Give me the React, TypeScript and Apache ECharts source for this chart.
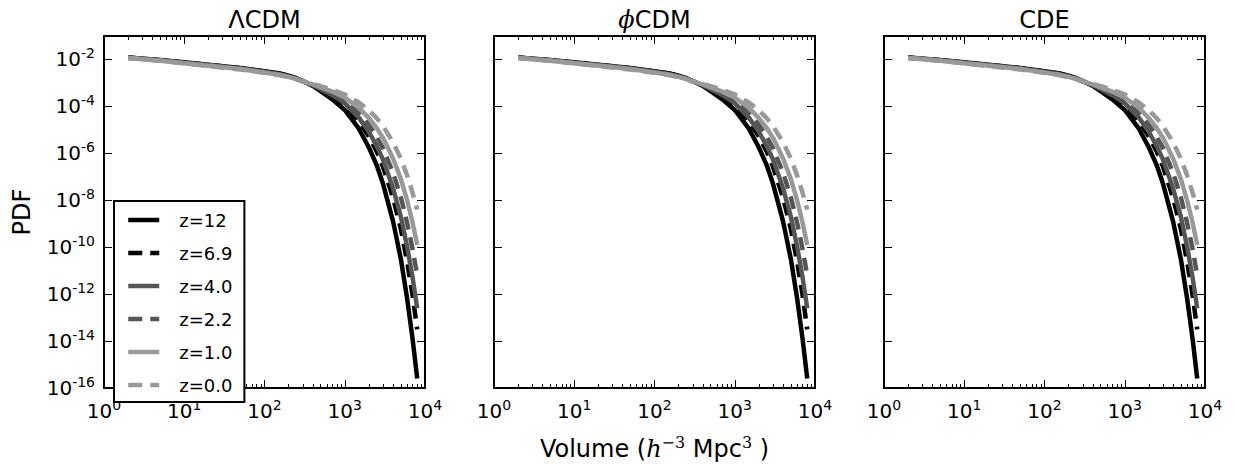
import React, { useEffect, useRef } from 'react';
import * as echarts from 'echarts';

// Volume sample points (h^-3 Mpc^3)
const volume = [2, 5, 10, 20, 50, 100, 150, 200, 250, 300, 400, 500, 700, 1000, 1500, 2000, 2500, 3000, 4000, 5000, 6000, 7000, 8000];

// log10(PDF), one array per redshift
const logPdfZ12 = [-1.92, -2.02, -2.12, -2.22, -2.36, -2.5, -2.59, -2.69, -2.8, -2.92, -3.13, -3.35, -3.7, -4.15, -4.95, -5.75, -6.5, -7.3, -8.9, -10.5, -12.2, -13.9, -15.6];
const logPdfZ69 = [-1.92, -2.03, -2.13, -2.23, -2.37, -2.51, -2.6, -2.7, -2.81, -2.92, -3.11, -3.3, -3.58, -3.95, -4.62, -5.28, -5.92, -6.57, -7.9, -9.22, -10.63, -12.05, -13.5];
const logPdfZ40 = [-1.93, -2.03, -2.14, -2.24, -2.38, -2.52, -2.62, -2.72, -2.82, -2.93, -3.1, -3.27, -3.52, -3.86, -4.48, -5.09, -5.68, -6.27, -7.49, -8.7, -9.99, -11.29, -12.6];
const logPdfZ22 = [-1.93, -2.04, -2.15, -2.25, -2.39, -2.54, -2.64, -2.73, -2.83, -2.93, -3.08, -3.23, -3.44, -3.73, -4.27, -4.79, -5.29, -5.79, -6.83, -7.87, -8.98, -10.08, -11.2];
const logPdfZ10 = [-1.94, -2.05, -2.16, -2.27, -2.41, -2.56, -2.65, -2.74, -2.84, -2.93, -3.06, -3.19, -3.37, -3.62, -4.06, -4.5, -4.92, -5.34, -6.22, -7.09, -8.02, -8.95, -9.9];
const logPdfZ00 = [-1.94, -2.05, -2.17, -2.28, -2.43, -2.57, -2.66, -2.75, -2.84, -2.93, -3.04, -3.14, -3.29, -3.49, -3.83, -4.17, -4.5, -4.84, -5.53, -6.22, -6.95, -7.68, -8.4];

const seriesNames = ['z=12', 'z=6.9', 'z=4.0', 'z=2.2', 'z=1.0', 'z=0.0'];
const seriesLogs = [logPdfZ12, logPdfZ69, logPdfZ40, logPdfZ22, logPdfZ10, logPdfZ00];
const seriesColors = ['#000000', '#000000', '#555555', '#555555', '#999999', '#999999'];
const seriesDashed = [false, true, false, true, false, true];

const panelTitles = ['{t|ΛCDM}', '{i|ϕ}{t|CDM}', '{t|CDE}'];

const xMajorTicks = [1, 10, 100, 1000, 10000];
const xMinorTicks = [2, 3, 4, 5, 6, 7, 8, 9, 20, 30, 40, 50, 60, 70, 80, 90, 200, 300, 400, 500, 600, 700, 800, 900, 2000, 3000, 4000, 5000, 6000, 7000, 8000, 9000];
const yMajorTicks = [1e-16, 1e-14, 1e-12, 1e-10, 1e-8, 1e-6, 1e-4, 1e-2];

const FONT = 'DejaVu Sans';
const gridLefts = [104, 494, 884];
const gridTop = 36;
const gridW = 321;
const gridH = 352;
const LINE_W = 4.5;
const DASH = [13, 8];

const powLabel = (v: number) => {
  const e = Math.round(Math.log10(v));
  return `{b|10}{s|${e}}`;
};
const powRich = {
  b: { fontSize: 20, fontFamily: FONT, color: '#000' },
  s: { fontSize: 14, fontFamily: FONT, color: '#000', padding: [0, 0, 12, 0] },
};

export default function App() {
  const ref = useRef<HTMLDivElement>(null);
  useEffect(() => {
    if (!ref.current) return;
    const chart = echarts.init(ref.current, undefined, { renderer: 'svg' });
    const grids: any[] = [];
    const xAxes: any[] = [];
    const yAxes: any[] = [];
    const series: any[] = [];
    const lineStyleAxis = { show: true, lineStyle: { color: '#000', width: 2 } };
    gridLefts.forEach((left, g) => {
      grids.push({ left, top: gridTop, width: gridW, height: gridH, outerBoundsMode: 'none', containLabel: false });
      const baseX = { type: 'log', logBase: 10, min: 1, max: 10000, gridIndex: g, splitLine: { show: false } };
      xAxes.push({
        ...baseX, position: 'bottom', axisLine: lineStyleAxis,
        axisTick: { show: true, inside: true, length: 8, customValues: xMajorTicks, lineStyle: { color: '#000', width: 1 } },
        axisLabel: { show: true, customValues: xMajorTicks, formatter: powLabel, rich: powRich, margin: 10, interval: 0 },
      });
      xAxes.push({
        ...baseX, position: 'bottom', axisLine: { show: false },
        axisTick: { show: true, inside: true, length: 4, customValues: xMinorTicks, lineStyle: { color: '#000', width: 1 } },
        axisLabel: { show: false },
      });
      xAxes.push({
        ...baseX, position: 'top', axisLine: lineStyleAxis,
        axisTick: { show: true, inside: true, length: 8, customValues: xMajorTicks, lineStyle: { color: '#000', width: 1 } },
        axisLabel: { show: false },
      });
      xAxes.push({
        ...baseX, position: 'top', axisLine: { show: false },
        axisTick: { show: true, inside: true, length: 4, customValues: xMinorTicks, lineStyle: { color: '#000', width: 1 } },
        axisLabel: { show: false },
      });
      const baseY = { type: 'log', logBase: 10, min: 1e-16, max: 1e-1, gridIndex: g, splitLine: { show: false } };
      yAxes.push({
        ...baseY, position: 'left', axisLine: lineStyleAxis,
        axisTick: { show: true, inside: true, length: 8, customValues: yMajorTicks, lineStyle: { color: '#000', width: 1 } },
        axisLabel: g === 0
          ? { show: true, customValues: yMajorTicks, formatter: powLabel, rich: powRich, margin: 9, interval: 0 }
          : { show: false },
      });
      yAxes.push({
        ...baseY, position: 'right', axisLine: lineStyleAxis,
        axisTick: { show: true, inside: true, length: 8, customValues: yMajorTicks, lineStyle: { color: '#000', width: 1 } },
        axisLabel: { show: false },
      });
      seriesNames.forEach((name, k) => {
        series.push({
          type: 'line',
          name,
          xAxisIndex: g * 4,
          yAxisIndex: g * 2,
          data: volume.map((v, i) => [v, Math.pow(10, seriesLogs[k][i])]),
          showSymbol: false,
          symbol: 'none',
          lineStyle: { color: seriesColors[k], width: LINE_W, type: seriesDashed[k] ? DASH : 'solid', cap: 'butt', join: 'round' },
          itemStyle: { color: seriesColors[k] },
          z: 2 + k,
        });
      });
    });

    const graphics: any[] = [];
    panelTitles.forEach((t, g) => {
      graphics.push({
        type: 'text', x: gridLefts[g] + gridW / 2, y: 20,
        style: {
          text: t, align: 'center', verticalAlign: 'middle', fill: '#000',
          rich: {
            t: { fontSize: 24, fontFamily: FONT, color: '#000' },
            i: { fontSize: 24, fontFamily: 'DejaVu Serif', fontStyle: 'italic', color: '#000' },
          },
        },
      });
    });
    graphics.push({
      type: 'text', x: 22, y: gridTop + gridH / 2, rotation: Math.PI / 2,
      style: { text: 'PDF', fontSize: 24, fontFamily: FONT, fill: '#000', align: 'center', verticalAlign: 'middle' },
    });
    graphics.push({
      type: 'text', x: gridLefts[1] + gridW / 2, y: 449,
      style: {
        text: '{n|Volume (}{i|h}{s|−3}{n| Mpc}{s|3}{n| )}', align: 'center', verticalAlign: 'middle', fill: '#000',
        rich: {
          n: { fontSize: 24, fontFamily: FONT, color: '#000' },
          i: { fontSize: 24, fontFamily: 'DejaVu Serif', fontStyle: 'italic', color: '#000' },
          s: { fontSize: 16, fontFamily: 'DejaVu Serif', color: '#000', padding: [0, 0, 14, 0] },
        },
      },
    });

    chart.setOption({
      animation: false,
      backgroundColor: '#fff',
      grid: grids,
      xAxis: xAxes,
      yAxis: yAxes,
      series,
      legend: {
        data: seriesNames.map((name, k) => ({
          name,
          itemStyle: { color: 'rgba(0,0,0,0)', borderColor: 'rgba(0,0,0,0)', borderWidth: 0, opacity: 0 },
          lineStyle: { color: seriesColors[k], width: LINE_W, type: seriesDashed[k] ? [14, 8] : 'solid', cap: 'butt' },
        })),
        left: 114, top: 201,
        orient: 'vertical',
        itemWidth: 31, itemHeight: 14, itemGap: 15,
        padding: [10, 12, 8, 12],
        borderColor: '#000', borderWidth: 2, borderRadius: 0,
        backgroundColor: '#fff',
        selectedMode: false,
        textStyle: { fontSize: 18, fontFamily: FONT, color: '#000', padding: [0, 0, 0, 15] },
        z: 20,
      },
      graphic: graphics,
    });
    return () => chart.dispose();
  }, []);
  return <div ref={ref} style={{ position: 'fixed', left: 0, top: 0, width: 1235, height: 464 }} />;
}
